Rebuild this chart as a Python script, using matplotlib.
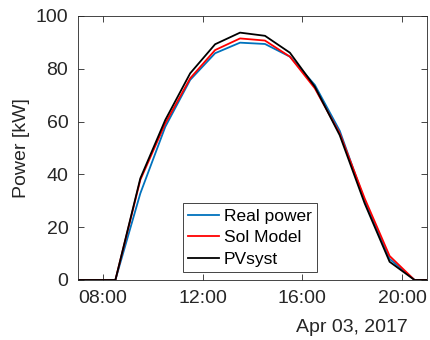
import matplotlib
matplotlib.use("Agg")
import matplotlib.pyplot as plt
from datetime import datetime

plt.rcParams['font.family'] = ['Liberation Sans', 'DejaVu Sans']

times = ["06:30", "07:30", "08:30", "09:30", "10:30", "11:30", "12:30", "13:30",
         "14:30", "15:30", "16:30", "17:30", "18:30", "19:30", "20:30", "21:30"]
real_power = [0, 0, 0, 32.8, 58.0, 75.8, 85.9, 89.9, 89.4, 84.6, 73.9, 56.5, 30.0, 8.0, 0, 0]
sol_model = [0, 0, 0, 37.9, 59.3, 76.4, 87.1, 91.5, 90.7, 84.6, 72.6, 55.5, 30.9, 9.1, 0, 0]
pvsyst = [0, 0, 0, 38.5, 60.6, 78.3, 89.3, 93.7, 92.5, 86.1, 73.2, 54.8, 29.0, 6.9, 0, 0]
xtick_labels = ["08:00", "12:00", "16:00", "20:00"]
date_label = "Apr 03, 2017"

day = "2017-04-03"
t = [datetime.strptime(f"{day} {s}", "%Y-%m-%d %H:%M") for s in times]

fig = plt.figure(figsize=(4.3, 3.4), dpi=100)
ax = fig.add_axes([78/430, 60/340, 349/430, 264/340])

ax.plot(t, real_power, color='#0072BD', lw=1.3, label='Real power')
ax.plot(t, sol_model, color='#FF0000', lw=1.3, label='Sol Model')
ax.plot(t, pvsyst, color='#000000', lw=1.3, label='PVsyst')

ax.set_xlim(datetime(2017, 4, 3, 7, 0), datetime(2017, 4, 3, 21, 0))
ax.set_ylim(0, 100)
xt = [datetime.strptime(f"{day} {s}", "%Y-%m-%d %H:%M") for s in xtick_labels]
ax.set_xticks(xt)
ax.set_xticklabels(xtick_labels)
ax.set_yticks([0, 20, 40, 60, 80, 100])

tc = '#262626'
for sp in ax.spines.values():
    sp.set_color(tc)
    sp.set_linewidth(0.6)
ax.tick_params(direction='in', length=4, width=0.6, colors=tc, labelsize=14,
               top=True, right=True)
ax.tick_params(axis='x', pad=7)
ax.tick_params(axis='y', pad=7)
ax.set_ylabel('Power [kW]', fontsize=14, color=tc, labelpad=4)

leg = ax.legend(loc='lower center', bbox_to_anchor=(0.493, 0.03), fontsize=12.5,
                frameon=True, fancybox=False, edgecolor=tc, framealpha=1,
                handlelength=1.75, handletextpad=0.3, borderpad=0.3,
                labelspacing=0.37, borderaxespad=0)
leg.get_frame().set_linewidth(0.6)

fig.text(408/430, 1 - 327/340, date_label, ha='right', va='center',
         fontsize=14, color=tc)

fig.savefig('out.png', dpi=100)
